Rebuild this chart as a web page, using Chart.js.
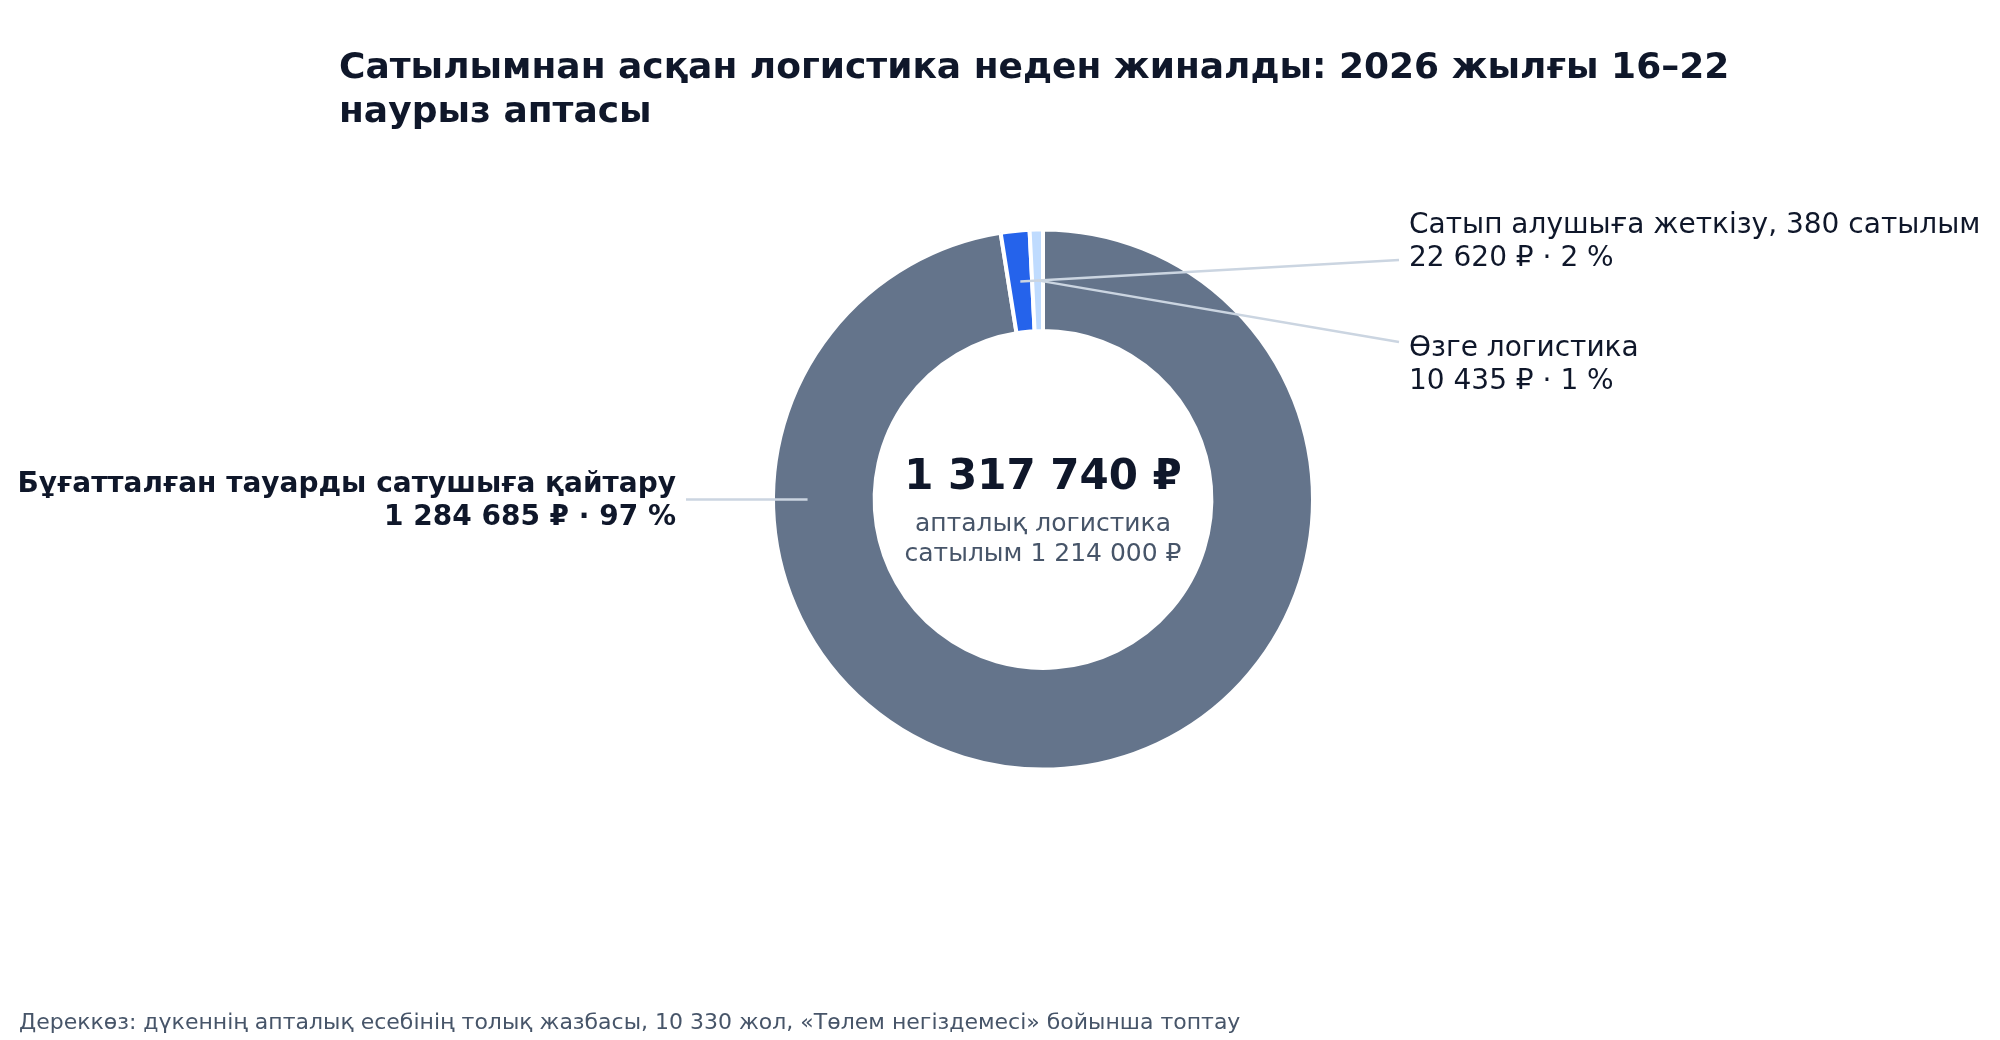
<!DOCTYPE html>
<html>
<head>
<meta charset="utf-8">
<script src="https://cdn.jsdelivr.net/npm/chart.js@4.4.1/dist/chart.umd.min.js"></script>
<style>
  html, body { margin: 0; padding: 0; background: #ffffff; }
  #wrap { width: 2000px; height: 1040px; position: relative; }
</style>
</head>
<body>
<div id="wrap"><canvas id="myChart" width="2000" height="1040"></canvas></div>
<script>
// данные
const categories = ['Бұғатталған тауарды сатушыға қайтару', 'Сатып алушыға жеткізу, 380 сатылым', 'Өзге логистика'];
const amounts = [1284685, 22620, 10435];
const sliceColors = ['#64748b', '#2563eb', '#bfdbfe'];
const weeklySales = 1214000;

const titleLines = ['Сатылымнан асқан логистика неден жиналды: 2026 жылғы 16–22', 'наурыз аптасы'];
const centerSub = ['апталық логистика', 'сатылым ' + fmt(weeklySales) + ' ₽'];
const footerText = 'Дереккөз: дүкеннің апталық есебінің толық жазбасы, 10 330 жол, «Төлем негіздемесі» бойынша топтау';

const FONT = '"DejaVu Sans", sans-serif';
const total = amounts.reduce((a, b) => a + b, 0);

function fmt(n) {
    return n.toString().replace(/\B(?=(\d{3})+(?!\d))/g, ' ');
}

// where the label sits and where its leader line ends (null y = same as anchor)
const labelPos = [
    { x: 676, y: 485, align: 'right', bold: true, lineEnd: [686, null], angle: Math.PI, ring: 0.66 },
    { x: 1409, y: 226, align: 'left', bold: false, lineEnd: [1399, 260], angle: null, ring: 0.5 },
    { x: 1409, y: 349, align: 'left', bold: false, lineEnd: [1399, 342], angle: null, ring: 0.5 }
];

const annotations = {
    id: 'annotations',
    afterDraw(chart) {
        const ctx = chart.ctx;
        const arcs = chart.getDatasetMeta(0).data;
        ctx.save();

        // leader lines
        ctx.strokeStyle = '#cbd5e1';
        ctx.lineWidth = 2.5;
        arcs.forEach((arc, i) => {
            const p = arc.getProps(['x', 'y', 'startAngle', 'endAngle', 'innerRadius', 'outerRadius'], true);
            const lp = labelPos[i];
            const a = lp.angle !== null ? lp.angle : (p.startAngle + p.endAngle) / 2;
            const r = p.innerRadius + (p.outerRadius - p.innerRadius) * lp.ring;
            const ax = p.x + Math.cos(a) * r;
            const ay = p.y + Math.sin(a) * r;
            ctx.beginPath();
            ctx.moveTo(ax, ay);
            ctx.lineTo(lp.lineEnd[0], lp.lineEnd[1] === null ? ay : lp.lineEnd[1]);
            ctx.stroke();
        });

        // slice labels
        ctx.textBaseline = 'middle';
        ctx.fillStyle = '#0f172a';
        categories.forEach((name, i) => {
            const lp = labelPos[i];
            const pct = Math.round(amounts[i] / total * 100);
            ctx.font = (lp.bold ? 'bold ' : '') + '28px ' + FONT;
            ctx.textAlign = lp.align;
            ctx.fillText(name, lp.x, lp.y);
            ctx.fillText(fmt(amounts[i]) + ' ₽ · ' + pct + ' %', lp.x, lp.y + 33);
        });

        // centre
        const c = arcs[0].getProps(['x', 'y'], true);
        ctx.textAlign = 'center';
        ctx.fillStyle = '#0f172a';
        ctx.font = 'bold 42px ' + FONT;
        ctx.fillText(fmt(total) + ' ₽', c.x, 478);
        ctx.fillStyle = '#475569';
        ctx.font = '25px ' + FONT;
        ctx.fillText(centerSub[0], c.x, 524);
        ctx.fillText(centerSub[1], c.x, 554);

        // title
        ctx.textAlign = 'left';
        ctx.fillStyle = '#0f172a';
        ctx.font = 'bold 36px ' + FONT;
        ctx.fillText(titleLines[0], 339, 69);
        ctx.fillText(titleLines[1], 339, 113);

        // footer
        ctx.fillStyle = '#475569';
        ctx.font = '22px ' + FONT;
        ctx.fillText(footerText, 19, 1023);

        ctx.restore();
    }
};

const ctx = document.getElementById('myChart').getContext('2d');
const myChart = new Chart(ctx, {
    type: 'doughnut',
    data: {
        labels: categories,
        datasets: [{
            data: amounts,
            backgroundColor: sliceColors,
            borderColor: '#ffffff',
            borderWidth: 4
        }]
    },
    options: {
        responsive: false,
        animation: false,
        radius: 270,
        cutout: 169,
        layout: { padding: { left: 770, right: 684, top: 226, bottom: 267 } },
        plugins: {
            legend: { display: false },
            tooltip: { enabled: false },
            title: { display: false }
        }
    },
    plugins: [annotations]
});
</script>
</body>
</html>
